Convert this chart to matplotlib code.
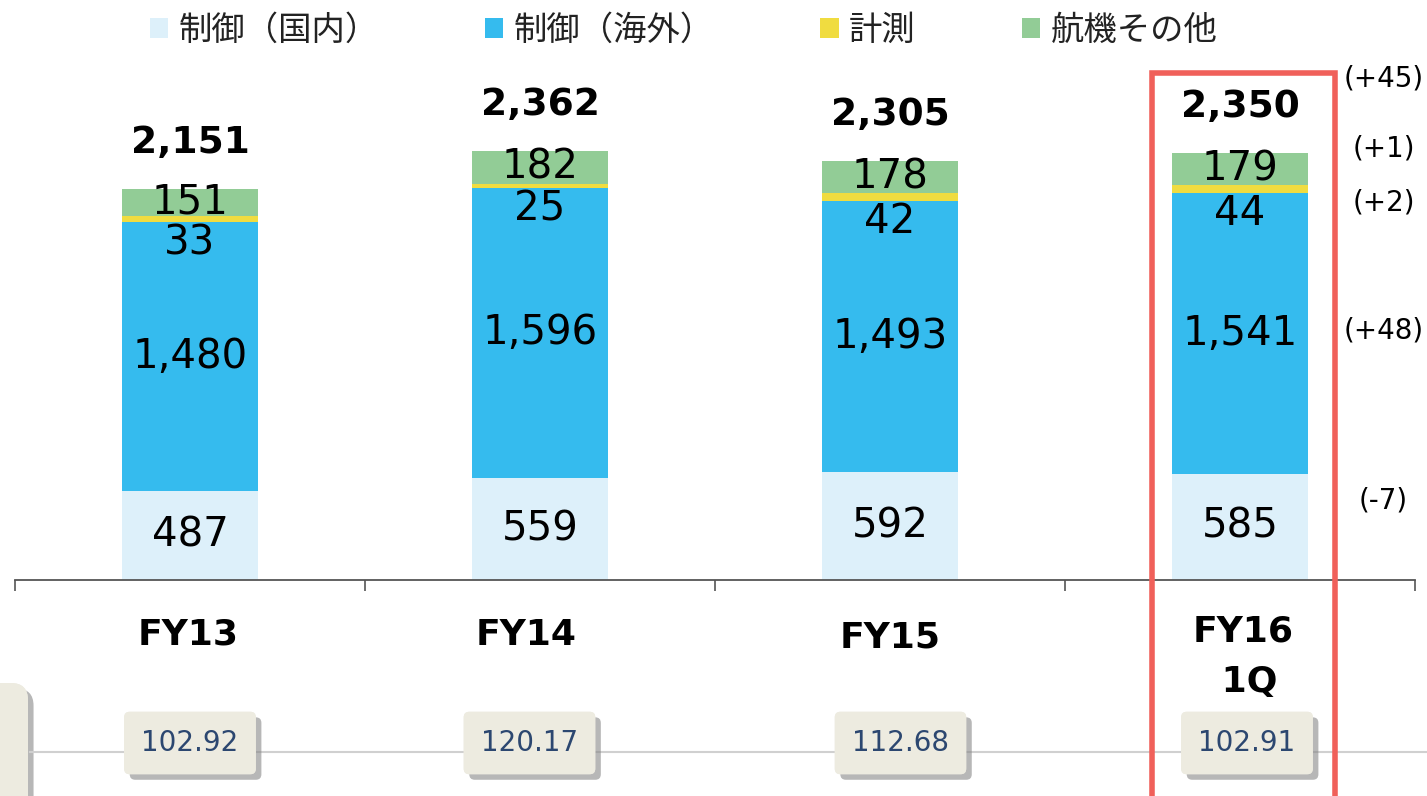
import numpy as np
import matplotlib
matplotlib.use('Agg')
import matplotlib.pyplot as plt
import matplotlib.patheffects as pe
from matplotlib import transforms
from matplotlib.patches import Patch, Rectangle, FancyBboxPatch
from matplotlib.lines import Line2D

plt.rcParams['font.family'] = ['DejaVu Sans', 'Noto Sans CJK JP']

categories = ['FY13', 'FY14', 'FY15', 'FY16\n 1Q']
domestic = [487, 559, 592, 585]
overseas = [1480, 1596, 1493, 1541]
measure = [33, 25, 42, 44]
other = [151, 182, 178, 179]
totals = [2151, 2362, 2305, 2350]
fx_rates = ['102.92', '120.17', '112.68', '102.91']
series_names = ['制御（国内）', '制御（海外）', '計測', '航機その他']

colors = ['#DDF0FA', '#35BBEE', '#F0DC40', '#92CC96']

W, H = 1427, 796
fig = plt.figure(figsize=(W / 100, H / 100), dpi=100)
ax = fig.add_axes([15 / W, 1 - 580 / H, 1400 / W, 520 / H])

x = np.arange(len(categories))
w = 0.39
dom = np.array(domestic)
ovs = np.array(overseas)
mea = np.array(measure)
oth = np.array(other)

ax.bar(x, dom, w, color=colors[0])
ax.bar(x, ovs, w, bottom=dom, color=colors[1])
ax.bar(x, mea, w, bottom=dom + ovs, color=colors[2])
ax.bar(x, oth, w, bottom=dom + ovs + mea, color=colors[3])

ax.set_xlim(-0.5, 3.5)
ax.set_ylim(0, 2860)
for s in ['top', 'right', 'left']:
    ax.spines[s].set_visible(False)
ax.spines['bottom'].set_color('#555555')
ax.spines['bottom'].set_linewidth(1.3)
ax.set_yticks([])
ax.set_xticks(np.arange(-0.5, 4, 1))
ax.set_xticklabels([])
ax.tick_params(axis='x', direction='out', length=8, width=1.2, color='#555555')

num = dict(fontsize=29, color='black', ha='center', va='center')
cat_dx = [-0.005, -0.04, 0.0, 0.01]
cat_y = [-302, -302, -315, -424]
for i in x:
    ax.text(i, dom[i] / 2, f'{domestic[i]:,}', **num)
    ax.text(i, dom[i] + ovs[i] / 2, f'{overseas[i]:,}', **num)
    ax.text(i, dom[i] + ovs[i] - 115, f'{measure[i]:,}', **num)
    ax.text(i, dom[i] + ovs[i] + mea[i] + oth[i] / 2, f'{other[i]:,}', **num)
    top = dom[i] + ovs[i] + mea[i] + oth[i]
    ax.annotate(f'{totals[i]:,}', (i, top), xytext=(0, 33), textcoords='offset points',
                ha='center', va='center', fontsize=27, fontweight='bold')
    ax.text(i + cat_dx[i], cat_y[i], categories[i], ha='center', va='center', fontsize=26,
            fontweight='bold', linespacing=1.6, clip_on=False)

# changes of latest period vs previous year
diffs = [totals[3] - totals[2], other[3] - other[2], measure[3] - measure[2],
         overseas[3] - overseas[2], domestic[3] - domestic[2]]
diff_y = [2761, 2376, 2079, 1375, 440]
for d, yy in zip(diffs, diff_y):
    ax.text(3.41, yy, f'({d:+d})', ha='center', va='center', fontsize=20, clip_on=False)

# highlight rectangle around latest period
blend = transforms.blended_transform_factory(ax.transData, fig.transFigure)
rect = Rectangle((2.749, -0.05), 0.522, 1.05 - 73 / H, transform=blend,
                 fill=False, edgecolor='#F0605A', linewidth=4, clip_on=False, zorder=5)
fig.add_artist(rect)

# exchange rate row
fig.add_artist(Line2D([30 / W, 1], [1 - 752 / H] * 2, color='#D0D0D0', linewidth=1.5))
shadow = [pe.withSimplePatchShadow(offset=(4, -4), shadow_rgbFace='#888888', alpha=0.6), pe.Normal()]
fx_y = 1 - 743 / H
fx_dx = [0.0, -0.03, 0.03, 0.02]
for i, r in enumerate(fx_rates):
    t = fig.text(0, fx_y, r, transform=blend, fontsize=20, color='#2C4770',
                 ha='center', va='center',
                 bbox=dict(boxstyle='round,pad=0.62,rounding_size=0.2', facecolor='#EDEBE0',
                           edgecolor='none'))
    t.set_x(i + fx_dx[i])
    t.get_bbox_patch().set_path_effects(shadow)

# partially visible label box on the left edge
lbox = FancyBboxPatch((-60 / W, -40 / H), 88 / W, (H - 683 + 40) / H,
                      boxstyle='round,pad=0,rounding_size=0.012', transform=fig.transFigure,
                      facecolor='#EDEBE0', edgecolor='none', mutation_aspect=W / H)
lbox.set_path_effects(shadow)
fig.add_artist(lbox)

handles = [Patch(facecolor=c, edgecolor='none') for c in colors]
fig.legend(handles, series_names, loc='center', bbox_to_anchor=(0.479, 1 - 30 / H), ncol=4,
           frameon=False, prop={'family': ['Noto Sans CJK JP', 'DejaVu Sans'], 'size': 24},
           handlelength=0.55, handleheight=0.55, handletextpad=0.3, columnspacing=3.2,
           labelcolor='#222222')

fig.savefig('out.png', dpi=100)
